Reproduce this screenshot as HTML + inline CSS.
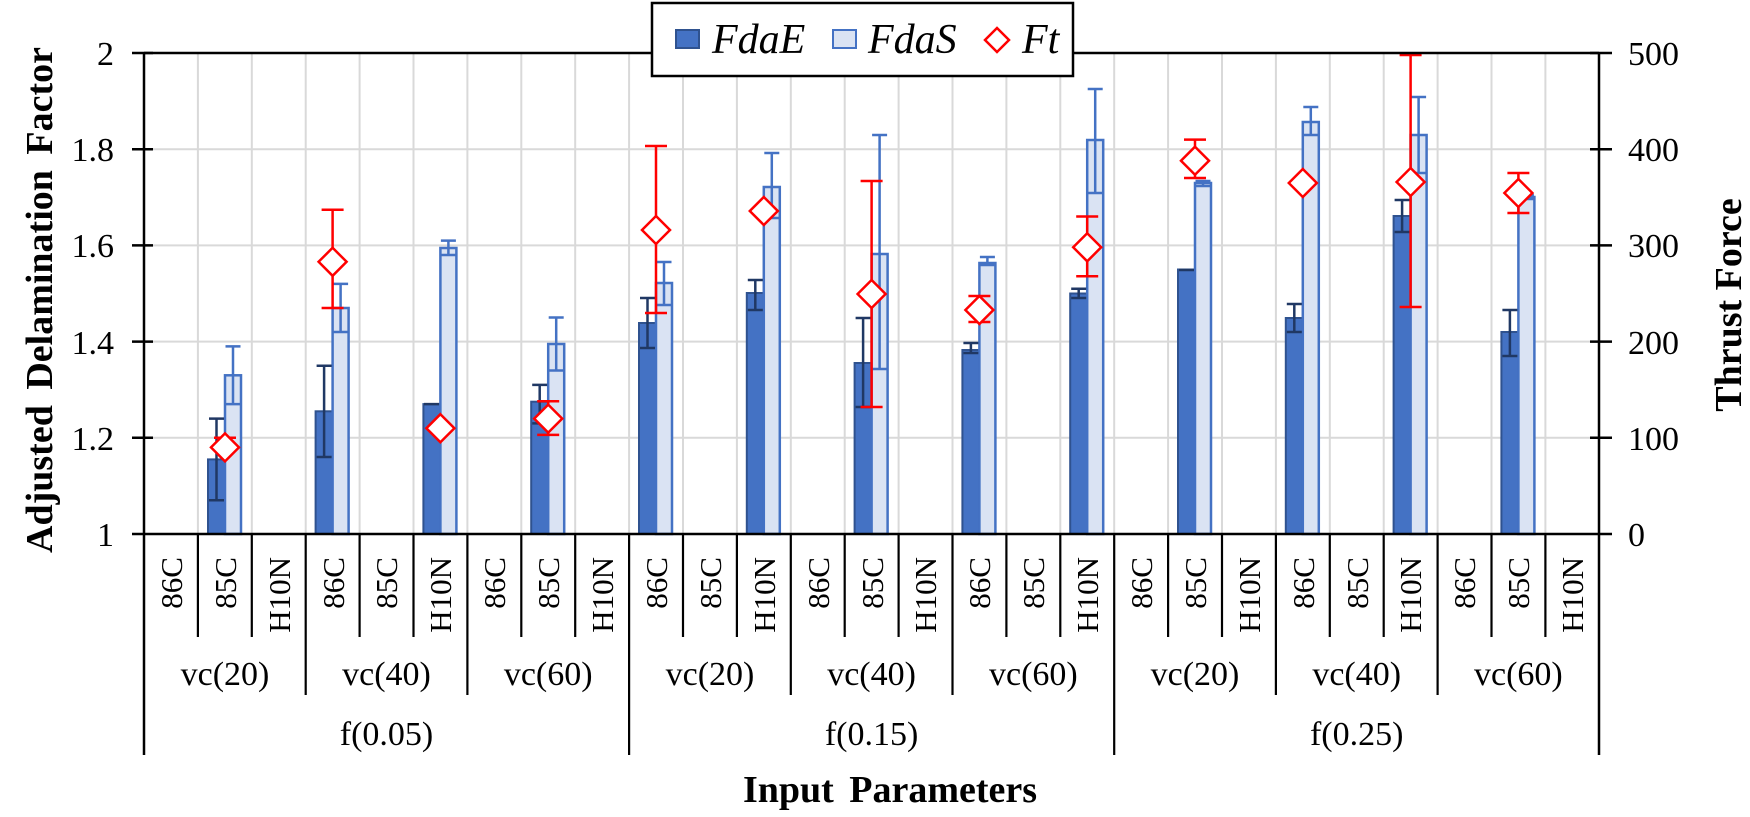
<!DOCTYPE html>
<html><head><meta charset="utf-8"><style>
html,body{margin:0;padding:0;background:#fff;}
svg{display:block;font-family:"Liberation Serif",serif;}
</style></head><body>
<svg width="1750" height="817" viewBox="0 0 1750 817" xmlns="http://www.w3.org/2000/svg">
<!-- horizontal gridlines -->
<g stroke="#d9d9d9" stroke-width="2">
<line x1="144" y1="149.2" x2="1599" y2="149.2"/>
<line x1="144" y1="245.4" x2="1599" y2="245.4"/>
<line x1="144" y1="341.6" x2="1599" y2="341.6"/>
<line x1="144" y1="437.8" x2="1599" y2="437.8"/>
</g>
<!-- vertical gridlines -->
<g stroke="#d9d9d9" stroke-width="2">
<line x1="197.9" y1="53" x2="197.9" y2="534"/><line x1="251.8" y1="53" x2="251.8" y2="534"/><line x1="305.7" y1="53" x2="305.7" y2="534"/>
<line x1="359.6" y1="53" x2="359.6" y2="534"/><line x1="413.5" y1="53" x2="413.5" y2="534"/><line x1="467.4" y1="53" x2="467.4" y2="534"/>
<line x1="521.3" y1="53" x2="521.3" y2="534"/><line x1="575.2" y1="53" x2="575.2" y2="534"/><line x1="629.1" y1="53" x2="629.1" y2="534"/>
<line x1="683" y1="53" x2="683" y2="534"/><line x1="736.9" y1="53" x2="736.9" y2="534"/><line x1="790.8" y1="53" x2="790.8" y2="534"/>
<line x1="844.7" y1="53" x2="844.7" y2="534"/><line x1="898.6" y1="53" x2="898.6" y2="534"/><line x1="952.5" y1="53" x2="952.5" y2="534"/>
<line x1="1006.4" y1="53" x2="1006.4" y2="534"/><line x1="1060.3" y1="53" x2="1060.3" y2="534"/><line x1="1114.2" y1="53" x2="1114.2" y2="534"/>
<line x1="1168.1" y1="53" x2="1168.1" y2="534"/><line x1="1222" y1="53" x2="1222" y2="534"/><line x1="1275.9" y1="53" x2="1275.9" y2="534"/>
<line x1="1329.8" y1="53" x2="1329.8" y2="534"/><line x1="1383.7" y1="53" x2="1383.7" y2="534"/><line x1="1437.6" y1="53" x2="1437.6" y2="534"/>
<line x1="1491.5" y1="53" x2="1491.5" y2="534"/><line x1="1545.4" y1="53" x2="1545.4" y2="534"/>
</g>

<!-- bars: dark (FdaE) -->
<g fill="#4472c4" stroke="#2f528f" stroke-width="2">
<rect x="208" y="459.4" width="17" height="74.6"/>
<rect x="315.6" y="411.3" width="17" height="122.7"/>
<rect x="423.4" y="404.1" width="17" height="129.9"/>
<rect x="531.2" y="401.7" width="17" height="132.3"/>
<rect x="639" y="323" width="17" height="211"/>
<rect x="746.8" y="293" width="17" height="241"/>
<rect x="854.6" y="363" width="17" height="171"/>
<rect x="962.4" y="350" width="17" height="184"/>
<rect x="1070.2" y="293.5" width="17" height="240.5"/>
<rect x="1178" y="269.5" width="17" height="264.5"/>
<rect x="1285.8" y="318" width="17" height="216"/>
<rect x="1393.6" y="216" width="17" height="318"/>
<rect x="1501.4" y="332" width="17" height="202"/>
</g>
<!-- bars: light (FdaS) -->
<g fill="#dae3f3" stroke="#4472c4" stroke-width="2.5">
<rect x="225" y="375.3" width="16" height="158.7"/>
<rect x="332.6" y="308" width="16" height="226"/>
<rect x="440.4" y="248" width="16" height="286"/>
<rect x="548.2" y="344" width="16" height="190"/>
<rect x="656" y="283" width="16" height="251"/>
<rect x="763.8" y="187" width="16" height="347"/>
<rect x="871.6" y="254" width="16" height="280"/>
<rect x="979.4" y="263" width="16" height="271"/>
<rect x="1087.2" y="140" width="16" height="394"/>
<rect x="1195" y="183" width="16" height="351"/>
<rect x="1302.8" y="122" width="16" height="412"/>
<rect x="1410.6" y="135" width="16" height="399"/>
<rect x="1518.4" y="197" width="16" height="337"/>
</g>

<!-- FdaE error bars -->
<g stroke="#203864" stroke-width="2.5" fill="none">
<path d="M216.5 418.6V500.3M209 418.6h15M209 500.3h15"/>
<path d="M324.1 365.7V457M316.6 365.7h15M316.6 457h15"/>
<path d="M424 404.1h15"/>
<path d="M539.7 384.9V423.4M532.2 384.9h15M532.2 423.4h15"/>
<path d="M647.5 298V348M640 298h15M640 348h15"/>
<path d="M755.3 280V310M747.8 280h15M747.8 310h15"/>
<path d="M863.1 318V407M855.6 318h15M855.6 407h15"/>
<path d="M970.9 343V353M963.4 343h15M963.4 353h15"/>
<path d="M1078.7 288.7V298M1071.2 288.7h15M1071.2 298h15"/>
<path d="M1179 270h15"/>
<path d="M1294.3 304V332M1286.8 304h15M1286.8 332h15"/>
<path d="M1402.1 200V232M1394.6 200h15M1394.6 232h15"/>
<path d="M1509.9 310V356M1502.4 310h15M1502.4 356h15"/>
</g>
<!-- FdaS error bars -->
<g stroke="#4472c4" stroke-width="2.5" fill="none">
<path d="M233 346.4V404.1M225.5 346.4h15M225.5 404.1h15"/>
<path d="M340.6 283.9V332M333.1 283.9h15M333.1 332h15"/>
<path d="M448.4 240.6V255M440.9 240.6h15M440.9 255h15"/>
<path d="M556.2 317.5V370.5M548.7 317.5h15M548.7 370.5h15"/>
<path d="M664 262V305M656.5 262h15M656.5 305h15"/>
<path d="M771.8 153V218M764.3 153h15M764.3 218h15"/>
<path d="M879.6 135V369M872.1 135h15M872.1 369h15"/>
<path d="M987.4 257V265M979.9 257h15M979.9 265h15"/>
<path d="M1095.2 89V193M1087.7 89h15M1087.7 193h15"/>
<path d="M1203 181V186M1195.5 181h15M1195.5 186h15"/>
<path d="M1310.8 107V135M1303.3 107h15M1303.3 135h15"/>
<path d="M1418.6 97V173M1411.1 97h15M1411.1 173h15"/>
<path d="M1526.4 195V199M1518.9 195h15M1518.9 199h15"/>
</g>

<!-- Ft error bars -->
<g stroke="#ff0000" stroke-width="2.5" fill="none">
<path d="M225 437.8V457M214 437.8h22"/>
<path d="M332.6 209.8V308M321.6 209.8h22M321.6 308h22"/>
<path d="M548.2 401.2V434.9M537.2 401.2h22M537.2 434.9h22"/>
<path d="M656 146V313M645 146h22M645 313h22"/>
<path d="M871.6 181V407M860.6 181h22M860.6 407h22"/>
<path d="M979.4 296V322M968.4 296h22M968.4 322h22"/>
<path d="M1087.2 216.5V276.2M1076.2 216.5h22M1076.2 276.2h22"/>
<path d="M1195 139.6V178M1184 139.6h22M1184 178h22"/>
<path d="M1410.6 55V307M1399.6 55h22M1399.6 307h22"/>
<path d="M1518.4 173V213M1507.4 173h22M1507.4 213h22"/>
</g>
<!-- Ft diamonds -->
<g fill="#fff" stroke="#ff0000" stroke-width="2.5">
<path d="M225 433.4l14 14-14 14-14-14z"/>
<path d="M332.6 247.8l14 14-14 14-14-14z"/>
<path d="M440.4 414.2l14 14-14 14-14-14z"/>
<path d="M548.2 404.6l14 14-14 14-14-14z"/>
<path d="M656 216l14 14-14 14-14-14z"/>
<path d="M763.8 197l14 14-14 14-14-14z"/>
<path d="M871.6 280l14 14-14 14-14-14z"/>
<path d="M979.4 296l14 14-14 14-14-14z"/>
<path d="M1087.2 233.3l14 14-14 14-14-14z"/>
<path d="M1195 146.7l14 14-14 14-14-14z"/>
<path d="M1302.8 169l14 14-14 14-14-14z"/>
<path d="M1410.6 168l14 14-14 14-14-14z"/>
<path d="M1518.4 179l14 14-14 14-14-14z"/>
</g>

<!-- axes -->
<g stroke="#000" stroke-width="2.5" fill="none">
<line x1="144" y1="53" x2="1599" y2="53"/>
<line x1="144" y1="53" x2="144" y2="755"/>
<line x1="1599" y1="53" x2="1599" y2="755"/>
<line x1="132" y1="534" x2="1612" y2="534"/>
<path d="M132 53h21M132 149.2h21M132 245.4h21M132 341.6h21M132 437.8h21"/>
<path d="M1590 53h22M1590 149.2h22M1590 245.4h22M1590 341.6h22M1590 437.8h22"/>
</g>
<!-- category dividers -->
<g stroke="#000" stroke-width="2.2">
<line x1="197.9" y1="534" x2="197.9" y2="637"/><line x1="251.8" y1="534" x2="251.8" y2="637"/><line x1="305.7" y1="534" x2="305.7" y2="695"/>
<line x1="359.6" y1="534" x2="359.6" y2="637"/><line x1="413.5" y1="534" x2="413.5" y2="637"/><line x1="467.4" y1="534" x2="467.4" y2="695"/>
<line x1="521.3" y1="534" x2="521.3" y2="637"/><line x1="575.2" y1="534" x2="575.2" y2="637"/><line x1="629.1" y1="534" x2="629.1" y2="755"/>
<line x1="683" y1="534" x2="683" y2="637"/><line x1="736.9" y1="534" x2="736.9" y2="637"/><line x1="790.8" y1="534" x2="790.8" y2="695"/>
<line x1="844.7" y1="534" x2="844.7" y2="637"/><line x1="898.6" y1="534" x2="898.6" y2="637"/><line x1="952.5" y1="534" x2="952.5" y2="695"/>
<line x1="1006.4" y1="534" x2="1006.4" y2="637"/><line x1="1060.3" y1="534" x2="1060.3" y2="637"/><line x1="1114.2" y1="534" x2="1114.2" y2="755"/>
<line x1="1168.1" y1="534" x2="1168.1" y2="637"/><line x1="1222" y1="534" x2="1222" y2="637"/><line x1="1275.9" y1="534" x2="1275.9" y2="695"/>
<line x1="1329.8" y1="534" x2="1329.8" y2="637"/><line x1="1383.7" y1="534" x2="1383.7" y2="637"/><line x1="1437.6" y1="534" x2="1437.6" y2="695"/>
<line x1="1491.5" y1="534" x2="1491.5" y2="637"/><line x1="1545.4" y1="534" x2="1545.4" y2="637"/>
</g>

<!-- y labels -->
<g font-size="34" text-anchor="end" fill="#000">
<text x="114" y="65">2</text>
<text x="114" y="161">1.8</text>
<text x="114" y="257">1.6</text>
<text x="114" y="354">1.4</text>
<text x="114" y="450">1.2</text>
<text x="114" y="546">1</text>
</g>
<g font-size="34" fill="#000">
<text x="1628" y="65">500</text>
<text x="1628" y="161">400</text>
<text x="1628" y="257">300</text>
<text x="1628" y="354">200</text>
<text x="1628" y="450">100</text>
<text x="1628" y="546">0</text>
</g>

<!-- category labels -->
<g font-size="31" text-anchor="end" fill="#000">
<text transform="translate(182,557) rotate(-90)">86C</text><text transform="translate(236,557) rotate(-90)">85C</text><text transform="translate(290,557) rotate(-90)">H10N</text>
<text transform="translate(344,557) rotate(-90)">86C</text><text transform="translate(397,557) rotate(-90)">85C</text><text transform="translate(451,557) rotate(-90)">H10N</text>
<text transform="translate(505,557) rotate(-90)">86C</text><text transform="translate(559,557) rotate(-90)">85C</text><text transform="translate(613,557) rotate(-90)">H10N</text>
<text transform="translate(667,557) rotate(-90)">86C</text><text transform="translate(721,557) rotate(-90)">85C</text><text transform="translate(775,557) rotate(-90)">H10N</text>
<text transform="translate(829,557) rotate(-90)">86C</text><text transform="translate(883,557) rotate(-90)">85C</text><text transform="translate(936,557) rotate(-90)">H10N</text>
<text transform="translate(990,557) rotate(-90)">86C</text><text transform="translate(1044,557) rotate(-90)">85C</text><text transform="translate(1098,557) rotate(-90)">H10N</text>
<text transform="translate(1152,557) rotate(-90)">86C</text><text transform="translate(1206,557) rotate(-90)">85C</text><text transform="translate(1260,557) rotate(-90)">H10N</text>
<text transform="translate(1314,557) rotate(-90)">86C</text><text transform="translate(1368,557) rotate(-90)">85C</text><text transform="translate(1421,557) rotate(-90)">H10N</text>
<text transform="translate(1475,557) rotate(-90)">86C</text><text transform="translate(1529,557) rotate(-90)">85C</text><text transform="translate(1583,557) rotate(-90)">H10N</text>
</g>
<g font-size="34" text-anchor="middle" fill="#000">
<text x="225" y="685">vc(20)</text><text x="386.5" y="685">vc(40)</text><text x="548.2" y="685">vc(60)</text>
<text x="710" y="685">vc(20)</text><text x="871.6" y="685">vc(40)</text><text x="1033.4" y="685">vc(60)</text>
<text x="1195" y="685">vc(20)</text><text x="1356.7" y="685">vc(40)</text><text x="1518.4" y="685">vc(60)</text>
<text x="386.5" y="745">f(0.05)</text><text x="871.6" y="745">f(0.15)</text><text x="1356.7" y="745">f(0.25)</text>
</g>

<!-- axis titles -->
<text x="890" y="802" font-size="38" font-weight="bold" text-anchor="middle" word-spacing="6">Input Parameters</text>
<text transform="translate(52,300) rotate(-90)" font-size="38" font-weight="bold" text-anchor="middle" word-spacing="6">Adjusted Delamination Factor</text>
<text transform="translate(1741,305) rotate(-90)" font-size="38" font-weight="bold" text-anchor="middle">Thrust Force</text>

<!-- legend -->
<rect x="652" y="3" width="421" height="73" fill="#fff" stroke="#000" stroke-width="2.5"/>
<rect x="676" y="30" width="23" height="18" fill="#4472c4" stroke="#2f528f" stroke-width="2"/>
<text x="712" y="53" font-size="42" font-style="italic">FdaE</text>
<rect x="833" y="30" width="23" height="18" fill="#dae3f3" stroke="#4472c4" stroke-width="2"/>
<text x="868" y="53" font-size="42" font-style="italic">FdaS</text>
<path d="M997 28l12 12-12 12-12-12z" fill="#fff" stroke="#ff0000" stroke-width="2.5"/>
<text x="1022" y="53" font-size="42" font-style="italic">Ft</text>
</svg>
</body></html>
